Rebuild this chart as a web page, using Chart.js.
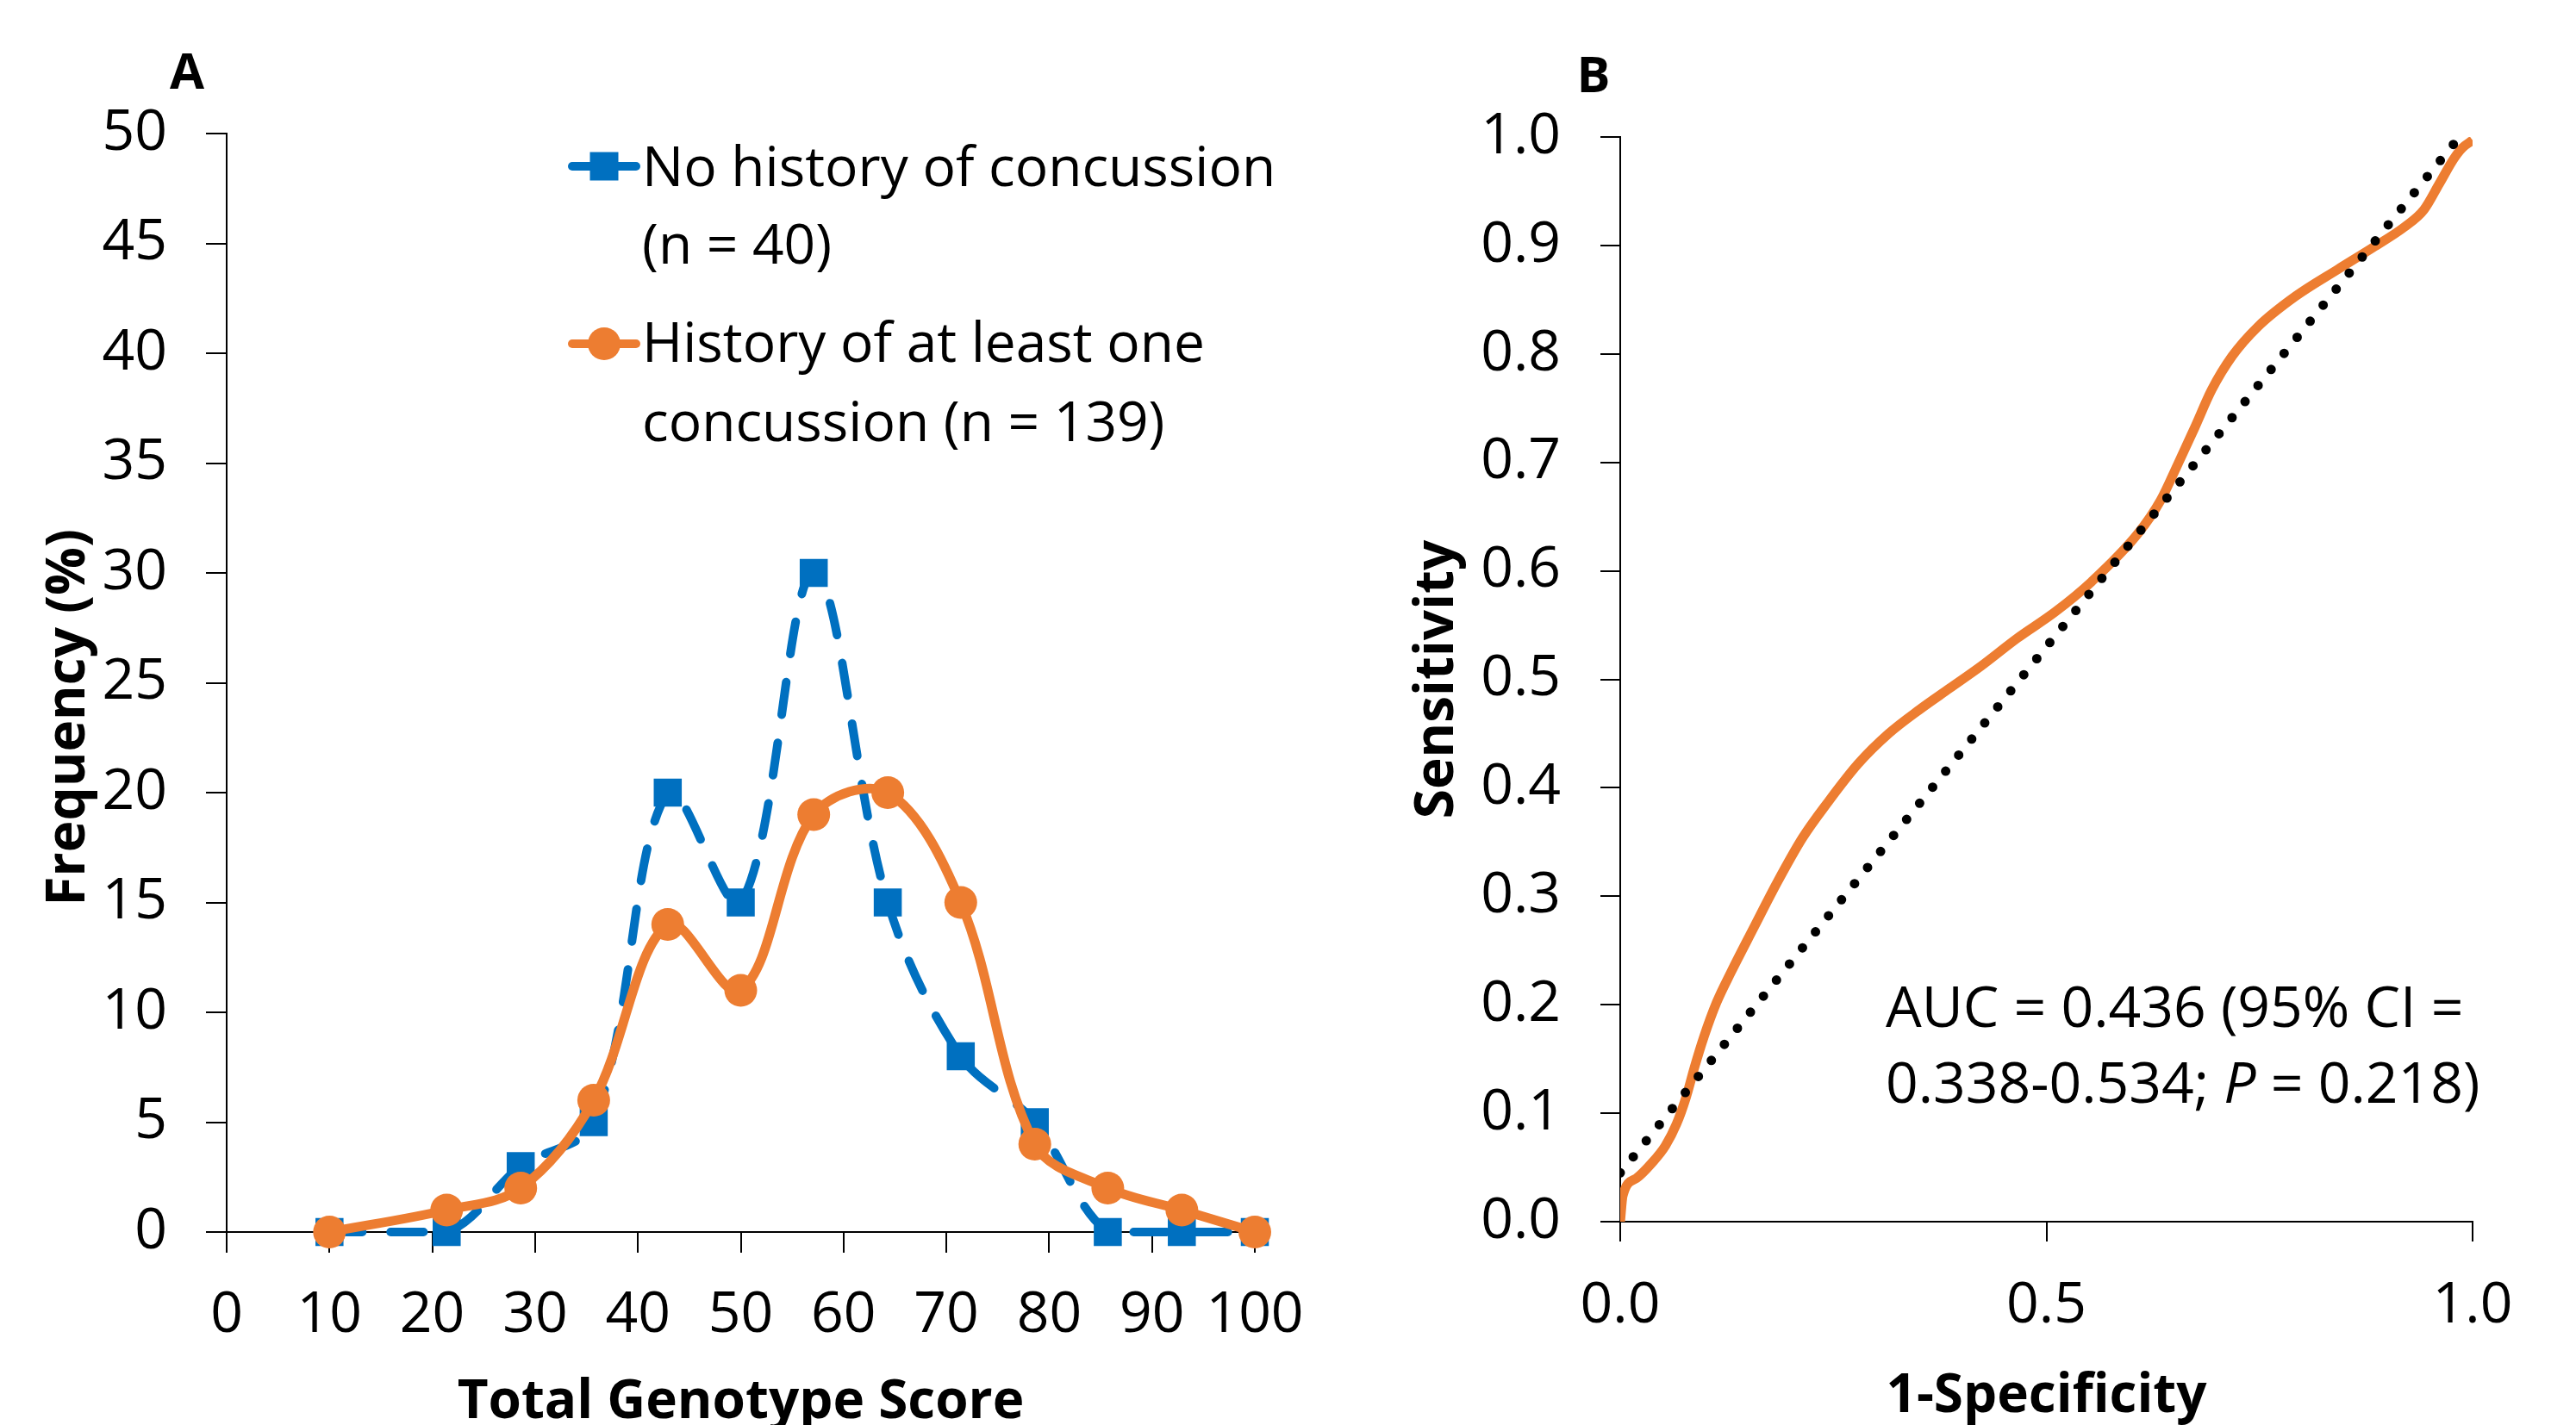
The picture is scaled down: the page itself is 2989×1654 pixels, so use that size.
<!DOCTYPE html>
<html>
<head>
<meta charset="utf-8">
<title>Total Genotype Score et courbe ROC</title>
<script src="https://cdn.jsdelivr.net/npm/chart.js@4.4.1/dist/chart.umd.min.js"></script>
<style>
  html, body { margin: 0; padding: 0; background: #fff; }
  #wrap { position: relative; width: 2989px; height: 1654px; overflow: hidden; }
  canvas { position: absolute; top: 0; }
  #graphique-a { left: 0; }
  #graphique-b { left: 1600px; }
</style>
</head>
<body>
<div id="wrap">
  <canvas id="graphique-a" width="1600" height="1654"></canvas>
  <canvas id="graphique-b" width="1389" height="1654"></canvas>
</div>
<script>
// Panneau A : fréquence (%) par score génotypique
const scores = [10, 21.4, 28.6, 35.7, 42.9, 50, 57.1, 64.3, 71.4, 78.6, 85.7, 92.9, 100];
const noHistory = [0, 0, 3, 5, 20, 15, 30, 15, 8, 5, 0, 0, 0];
const withHistory = [0, 1, 2, 6, 14, 11, 19, 20, 15, 4, 2, 1, 0];
const legendNoHistory = ["No history of concussion", "(n = 40)"];
const legendWithHistory = ["History of at least one", "concussion (n = 139)"];

// Panneau B : courbe ROC et ligne de référence
const rocX = [0, 0.003, 0.019, 0.037, 0.053, 0.066, 0.077, 0.087, 0.098, 0.113, 0.130, 0.156,
  0.185, 0.214, 0.243, 0.279, 0.315, 0.351, 0.387, 0.423, 0.466, 0.510, 0.553, 0.607, 0.634,
  0.654, 0.674, 0.694, 0.718, 0.748, 0.792, 0.842, 0.883, 0.920, 0.943, 0.961, 0.978, 0.988, 1.0];
const rocY = [0, 0.024, 0.040, 0.054, 0.070, 0.090, 0.114, 0.142, 0.170, 0.202, 0.230, 0.270,
  0.314, 0.354, 0.386, 0.422, 0.450, 0.472, 0.492, 0.512, 0.538, 0.562, 0.590, 0.634, 0.665,
  0.698, 0.732, 0.767, 0.798, 0.825, 0.853, 0.878, 0.898, 0.917, 0.933, 0.957, 0.980, 0.990, 0.997];
const refX = [0, 1];
const refY = [0.045, 1.015];

const BLEU = "#0070C0";
const ORANGE = "#ED7D31";
const POLICE = "'Open Sans', sans-serif";

Chart.defaults.font.family = POLICE;
Chart.defaults.color = "#000";

function points(xs, ys) {
  return xs.map((x, i) => ({ x: x, y: ys[i] }));
}

// Légende et lettre du panneau A, dessinées à la main
const texteA = {
  id: "texteA",
  afterDraw(chart) {
    const ctx = chart.ctx;
    ctx.save();
    ctx.fillStyle = "#000";
    ctx.font = "bold 58px " + POLICE;
    ctx.textAlign = "center";
    ctx.textBaseline = "middle";
    ctx.fillText("A", 217, 86);

    const items = [
      { couleur: BLEU, forme: "rect", y: 193, lignes: legendNoHistory, bases: [216, 306] },
      { couleur: ORANGE, forme: "circle", y: 399, lignes: legendWithHistory, bases: [420, 512] },
    ];
    for (const item of items) {
      ctx.strokeStyle = item.couleur;
      ctx.fillStyle = item.couleur;
      ctx.lineWidth = 10;
      ctx.lineCap = "round";
      ctx.beginPath();
      ctx.moveTo(664, item.y);
      ctx.lineTo(738, item.y);
      ctx.stroke();
      if (item.forme === "rect") {
        ctx.fillRect(701 - 16.5, item.y - 16.5, 33, 33);
      } else {
        ctx.beginPath();
        ctx.arc(701, item.y, 19, 0, Math.PI * 2);
        ctx.fill();
      }
      ctx.fillStyle = "#000";
      ctx.font = "64px " + POLICE;
      ctx.textAlign = "left";
      ctx.textBaseline = "alphabetic";
      for (let i = 0; i < item.lignes.length; i++) {
        ctx.fillText(item.lignes[i], 745, item.bases[i]);
      }
    }
    ctx.restore();
  },
};

// Annotation AUC et lettre du panneau B
const texteB = {
  id: "texteB",
  afterDraw(chart) {
    const ctx = chart.ctx;
    ctx.save();
    ctx.fillStyle = "#000";
    ctx.font = "bold 58px " + POLICE;
    ctx.textAlign = "center";
    ctx.textBaseline = "middle";
    ctx.fillText("B", 249, 90);

    ctx.textAlign = "left";
    ctx.textBaseline = "alphabetic";
    ctx.font = "66px " + POLICE;
    ctx.fillText("AUC = 0.436 (95% CI =", 588, 1192);
    const morceaux = [["0.338-0.534; ", "normal"], ["P", "italic"], [" = 0.218)", "normal"]];
    let x = 588;
    for (const [texte, style] of morceaux) {
      ctx.font = style + " 66px " + POLICE;
      ctx.fillText(texte, x, 1280);
      x += ctx.measureText(texte).width;
    }
    ctx.restore();
  },
};

const configA = {
  type: "line",
  data: {
    datasets: [
      {
        label: legendWithHistory.join(" "),
        data: points(scores, withHistory),
        borderColor: ORANGE,
        backgroundColor: ORANGE,
        borderWidth: 11,
        tension: 0.35,
        pointStyle: "circle",
        pointRadius: 19,
        pointBorderWidth: 0,
        pointBackgroundColor: ORANGE,
        order: 0,
        clip: false,
      },
      {
        label: legendNoHistory.join(" "),
        data: points(scores, noHistory),
        borderColor: BLEU,
        backgroundColor: BLEU,
        borderWidth: 10,
        borderDash: [38, 33],
        borderCapStyle: "round",
        tension: 0.35,
        pointStyle: "rect",
        pointRadius: 23,
        pointBorderWidth: 0,
        pointBackgroundColor: BLEU,
        order: 1,
        clip: false,
      },
    ],
  },
  options: {
    responsive: false,
    animation: false,
    devicePixelRatio: 1,
    layout: { padding: { left: 0, top: 155, right: 144, bottom: 0 } },
    plugins: { legend: { display: false }, tooltip: { enabled: false } },
    scales: {
      x: {
        type: "linear",
        min: 0,
        max: 100,
        afterFit: (scale) => { scale.height = 224; },
        border: { color: "#000", width: 2 },
        grid: { drawOnChartArea: false, drawTicks: true, tickLength: 24, color: "#000", lineWidth: 2 },
        ticks: { stepSize: 10, padding: 34, font: { size: 66 }, maxRotation: 0, autoSkip: false },
        title: {
          display: true,
          text: "Total Genotype Score",
          font: { size: 62, weight: "bold" },
          padding: { top: 0, bottom: -12 },
        },
      },
      y: {
        type: "linear",
        min: 0,
        max: 50,
        afterFit: (scale) => { scale.width = 263; },
        border: { color: "#000", width: 2 },
        grid: { drawOnChartArea: false, drawTicks: true, tickLength: 24, color: "#000", lineWidth: 2 },
        ticks: { stepSize: 5, padding: 45, font: { size: 66 }, autoSkip: false },
        title: {
          display: true,
          text: "Frequency (%)     ",
          font: { size: 62, weight: "bold" },
          padding: { top: 43, bottom: 0 },
        },
      },
    },
  },
  plugins: [texteA],
};

const configB = {
  type: "line",
  data: {
    datasets: [
      {
        label: "Référence",
        data: points(refX, refY),
        borderColor: "#000",
        borderWidth: 11,
        borderDash: [0, 24],
        borderCapStyle: "round",
        pointRadius: 0,
        tension: 0,
        order: 0,
        clip: 0,
      },
      {
        label: "ROC",
        data: points(rocX, rocY),
        borderColor: ORANGE,
        borderWidth: 11,
        cubicInterpolationMode: "monotone",
        pointRadius: 0,
        order: 1,
        clip: 0,
      },
    ],
  },
  options: {
    responsive: false,
    animation: false,
    devicePixelRatio: 1,
    layout: { padding: { left: 0, top: 159, right: 120, bottom: 0 } },
    plugins: { legend: { display: false }, tooltip: { enabled: false } },
    scales: {
      x: {
        type: "linear",
        min: 0,
        max: 1,
        afterFit: (scale) => { scale.height = 236; },
        border: { color: "#000", width: 2 },
        grid: { drawOnChartArea: false, drawTicks: true, tickLength: 23, color: "#000", lineWidth: 2 },
        ticks: {
          stepSize: 0.5,
          padding: 36,
          font: { size: 66 },
          maxRotation: 0,
          callback: (v) => Number(v).toFixed(1),
        },
        title: {
          display: true,
          text: "1-Specificity",
          font: { size: 62, weight: "bold" },
          padding: { top: 0, bottom: -5 },
        },
      },
      y: {
        type: "linear",
        min: 0,
        max: 1,
        afterFit: (scale) => { scale.width = 280; },
        border: { color: "#000", width: 2 },
        grid: { drawOnChartArea: false, drawTicks: true, tickLength: 23, color: "#000", lineWidth: 2 },
        ticks: {
          stepSize: 0.1,
          padding: 46,
          font: { size: 66 },
          autoSkip: false,
          callback: (v) => Number(v).toFixed(1),
        },
        title: {
          display: true,
          text: "Sensitivity",
          font: { size: 62, weight: "bold" },
          padding: { top: 31, bottom: 0 },
        },
      },
    },
  },
  plugins: [texteB],
};

new Chart(document.querySelector("#graphique-a"), configA);
new Chart(document.querySelector("#graphique-b"), configB);
</script>
</body>
</html>
